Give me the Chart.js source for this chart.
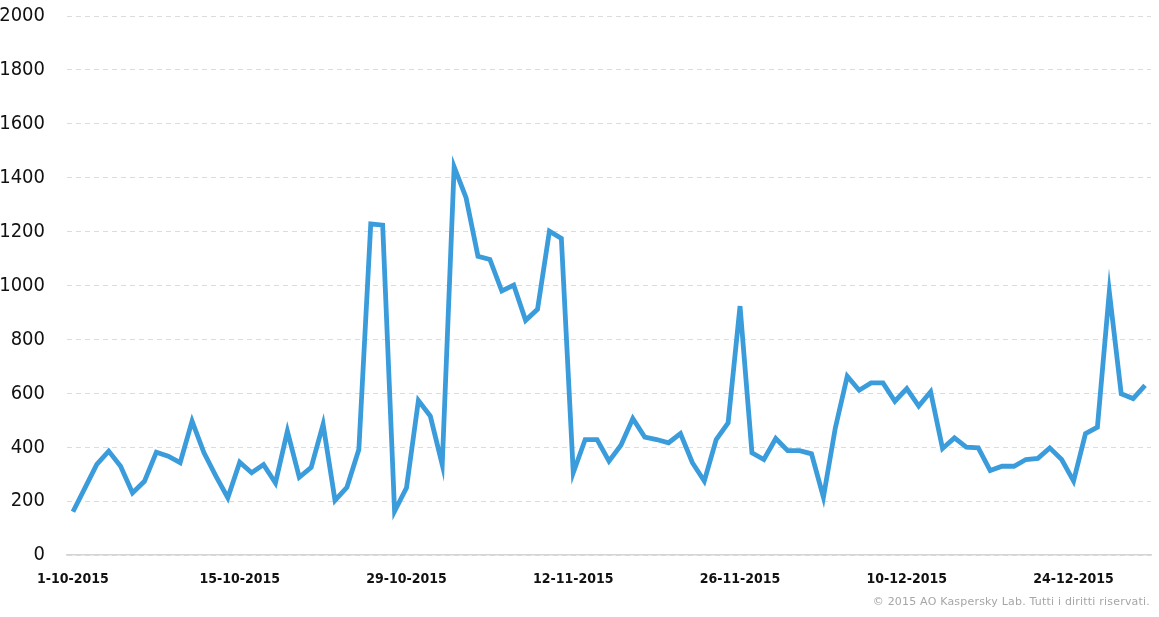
<!DOCTYPE html>
<html>
<head>
<meta charset="utf-8">
<script src="https://cdn.jsdelivr.net/npm/chart.js@4/dist/chart.umd.min.js"></script>
<style>
  html, body { margin: 0; padding: 0; background: #fff; overflow: hidden; }
  #wrap { position: relative; width: 1159px; height: 617px; overflow: hidden; }
  #lineChart { position: absolute; left: 0; top: -18px; }
  #note {
    position: absolute; right: 9px; top: 595px;
    font: 11px "DejaVu Sans", sans-serif; color: #a6a6a6; letter-spacing: 0.2px;
  }
</style>
</head>
<body>
<div id="wrap">
  <canvas id="lineChart" width="1159" height="635"></canvas>
  <div id="note">© 2015 AO Kaspersky Lab. Tutti i diritti riservati.</div>
</div>
<script>
// one value per day, 1-10-2015 .. 30-12-2015
var octValues = [161, 249, 337, 386, 330, 231, 274, 382, 367, 343, 497, 380, 293, 213, 345, 306,
	336, 268, 460, 289, 326, 485, 203, 252, 392, 1229, 1224, 163, 250, 574, 516];
var novValues = [336, 1440, 1326, 1109, 1097, 980, 1002, 871, 912, 1202, 1175, 306, 429, 429, 349,
	408, 507, 438, 429, 417, 451, 343, 275, 429, 491, 924, 380, 355, 433, 388];
var decValues = [388, 376, 215, 472, 664, 612, 639, 639, 571, 618, 553, 606, 396, 435, 401, 398,
	314, 330, 330, 355, 359, 398, 355, 275, 451, 475, 977, 599, 581, 630];
var tickLabels = ['1-10-2015', '15-10-2015', '29-10-2015', '12-11-2015', '26-11-2015', '10-12-2015', '24-12-2015'];
var yTicks = [0, 200, 400, 600, 800, 1000, 1200, 1400, 1600, 1800, 2000];

var values = octValues.concat(novValues, decValues);
var days = [];
for (var i = 0; i < values.length; i++) {
	days.push(i % 14 == 0 ? tickLabels[i / 14] : '');
}

var ctx = document.getElementById('lineChart');
var lineChart = new Chart(ctx, {
	type: 'line',
	data: {
		labels: days,
		datasets: [{
			data: values,
			borderColor: '#3b9cdb',
			borderWidth: 4.8,
			pointRadius: 0,
			tension: 0,
			fill: false
		}]
	},
	options: {
		responsive: false,
		animation: false,
		layout: { padding: { top: 0, right: 8, bottom: 21, left: 0 } },
		plugins: { legend: { display: false }, tooltip: { enabled: false } },
		scales: {
			x: {
				offset: true,
				grid: { display: false },
				border: { display: true, color: '#d4d4d4', width: 1.5 },
				ticks: {
					autoSkip: false, maxRotation: 0, padding: 8,
					color: '#111',
					font: { family: '"DejaVu Sans Condensed", sans-serif', size: 14, weight: 'bold' }
				}
			},
			y: {
				min: yTicks[0],
				max: yTicks[yTicks.length - 1],
				afterBuildTicks: function (axis) {
					axis.ticks = yTicks.map(function (v) { return { value: v }; });
				},
				afterFit: function (axis) { axis.width = 67; },
				grid: {
					color: '#dcdcdc', drawTicks: false, lineWidth: 1
				},
				border: { display: false, dash: [5, 4] },
				ticks: {
					padding: 22,
					color: '#111',
					callback: function (v) { return String(v); },
					font: { family: '"DejaVu Sans Condensed", sans-serif', size: 20 }
				}
			}
		}
	}
});
</script>
</body>
</html>
